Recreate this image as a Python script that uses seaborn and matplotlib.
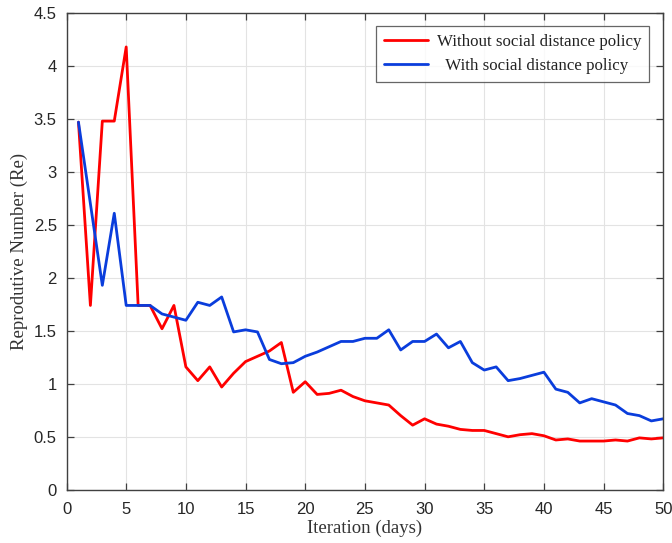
import numpy as np
import pandas as pd
import matplotlib
matplotlib.use("Agg")
import matplotlib.pyplot as plt
import seaborn as sns

days = list(range(1, 51))
without_policy = [3.47, 1.74, 3.48, 3.48, 4.18, 1.74, 1.74, 1.52, 1.74, 1.16,
                  1.03, 1.16, 0.97, 1.10, 1.21, 1.26, 1.31, 1.39, 0.92, 1.02,
                  0.90, 0.91, 0.94, 0.88, 0.84, 0.82, 0.80, 0.70, 0.61, 0.67,
                  0.62, 0.60, 0.57, 0.56, 0.56, 0.53, 0.50, 0.52, 0.53, 0.51,
                  0.47, 0.48, 0.46, 0.46, 0.46, 0.47, 0.46, 0.49, 0.48, 0.49]
with_policy = [3.47, 2.70, 1.93, 2.61, 1.74, 1.74, 1.74, 1.66, 1.63, 1.60,
               1.77, 1.74, 1.82, 1.49, 1.51, 1.49, 1.23, 1.19, 1.20, 1.26,
               1.30, 1.35, 1.40, 1.40, 1.43, 1.43, 1.51, 1.32, 1.40, 1.40,
               1.47, 1.34, 1.40, 1.20, 1.13, 1.16, 1.03, 1.05, 1.08, 1.11,
               0.95, 0.92, 0.82, 0.86, 0.83, 0.80, 0.72, 0.70, 0.65, 0.67]
labels = ["Without social distance policy", "  With social distance policy"]

df = pd.DataFrame({
    "day": days * 2,
    "Re": without_policy + with_policy,
    "series": [labels[0]] * 50 + [labels[1]] * 50,
})

sns.set_style("whitegrid")
plt.rcParams['font.family'] = ['Liberation Sans', 'DejaVu Sans']

fig = plt.figure(figsize=(6.72, 5.43), dpi=100)
ax = fig.add_axes([0.099, 0.098, 0.888, 0.878])

sns.lineplot(data=df, x="day", y="Re", hue="series",
             palette={labels[0]: "#ff0000", labels[1]: "#0a3ddc"},
             linewidth=2.0, ax=ax)

ax.set_xlim(0, 50)
ax.set_ylim(0, 4.5)
ax.set_xticks(np.arange(0, 51, 5))
ax.set_yticks(np.arange(0, 4.51, 0.5))
ax.set_yticklabels(["0", "0.5", "1", "1.5", "2", "2.5", "3", "3.5", "4", "4.5"])
ax.grid(True, color="#e3e3e3", linewidth=0.8)
for s in ax.spines.values():
    s.set_color("#404040")
    s.set_linewidth(1.0)
ax.tick_params(direction="in", length=5, width=0.9, color="#404040",
               labelsize=12, labelcolor="#262626", top=True, right=True,
               left=True, bottom=True, pad=7)
ax.tick_params(axis="x", pad=9)

ax.set_xlabel("Iteration (days)", family="Liberation Serif", fontsize=13.5,
              color="#333333", labelpad=2)
ax.set_ylabel("Reprodutive Number (Re)", family="Liberation Serif", fontsize=13.5,
              color="#333333", labelpad=4)

leg = ax.legend(loc="upper right", bbox_to_anchor=(0.9765, 0.9727),
                borderaxespad=0,
                prop={"family": "Liberation Serif", "size": 12.2},
                frameon=True, fancybox=False, edgecolor="#404040",
                handlelength=2.6, handletextpad=0.55, borderpad=0.45,
                labelspacing=0.5)
leg.get_frame().set_linewidth(0.9)
for t in leg.get_texts():
    t.set_color("#222222")

fig.savefig("out.png", dpi=100)
